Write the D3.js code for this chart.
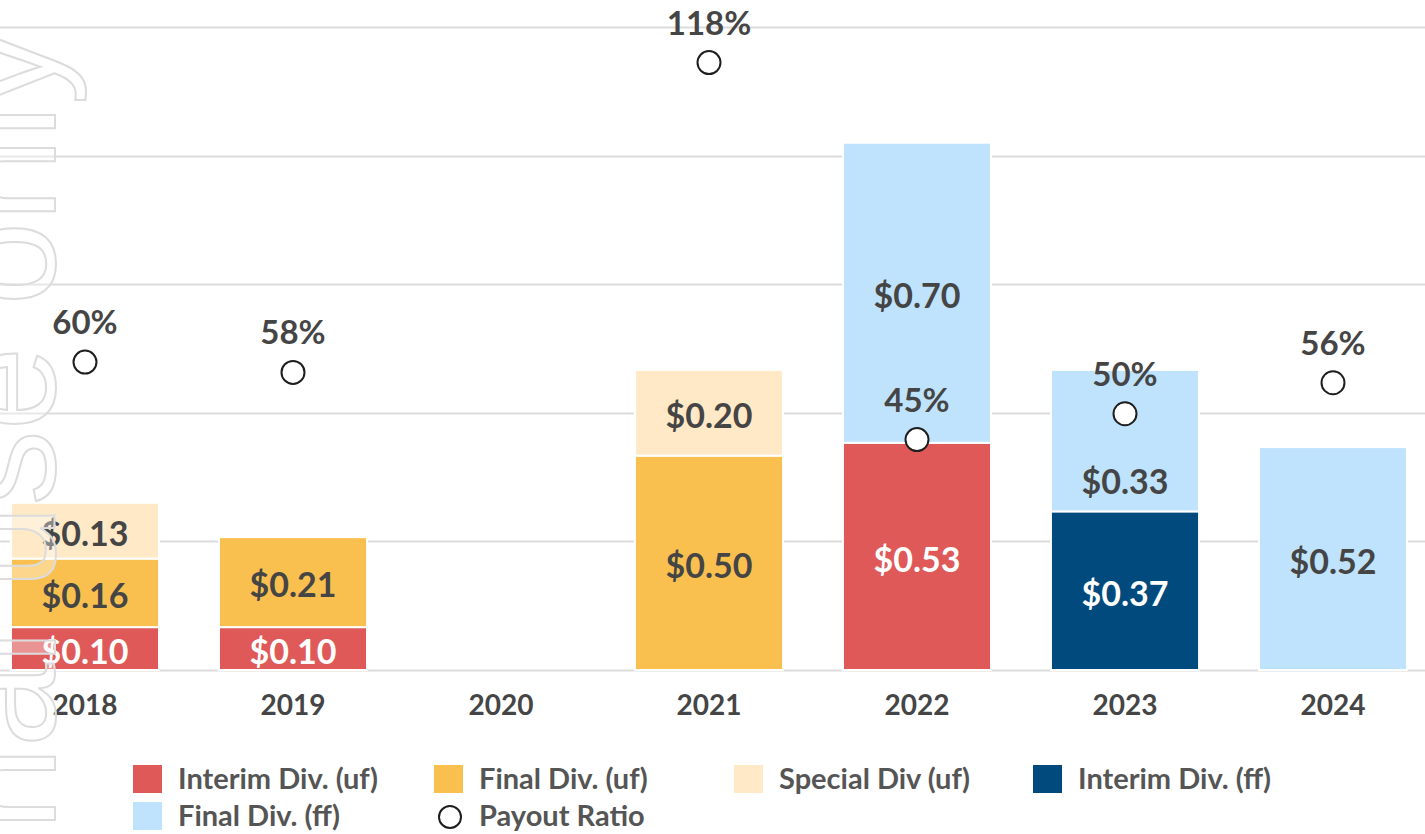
<!DOCTYPE html>
<html>
<head>
<meta charset="utf-8">
<script src="https://cdn.jsdelivr.net/npm/d3@7"></script>
<style>
  html, body { margin: 0; padding: 0; background: #fff; }
  svg { display: block; }
  text { font-family: Lato, "Open Sans", sans-serif; font-weight: 700; }
</style>
</head>
<body>
<svg id="chart" width="1425" height="834"></svg>
<script>
// Data
var years = ['2018', '2019', '2020', '2021', '2022', '2023', '2024'];
var interimUf = [0.10, 0.10, 0, 0, 0.53, 0, 0];
var finalUf   = [0.16, 0.21, 0, 0.50, 0, 0, 0];
var specialUf = [0.13, 0, 0, 0.20, 0, 0, 0];
var interimFf = [0, 0, 0, 0, 0, 0.37, 0];
var finalFf   = [0, 0, 0, 0, 0.70, 0.33, 0.52];
var payoutRatio = [0.60, 0.58, null, 1.18, 0.45, 0.50, 0.56];
var seriesNames = ['Interim Div. (uf)', 'Final Div. (uf)', 'Special Div (uf)', 'Interim Div. (ff)', 'Final Div. (ff)'];
var gridTicks = [0, 0.3, 0.6, 0.9, 1.2, 1.5];

var colors = ['#DF5959', '#F9C04F', '#FFE9C6', '#004A7E', '#BFE3FC'];
var labelColors = ['#fff', '#454545', '#454545', '#fff', '#454545'];

var width = 1425,
    baseY = 670,
    topY = 27;

var svg = d3.select('#chart');

var x = d3.scaleBand()
    .domain(years)
    .range([-19, 1437])
    .paddingInner(0.288)
    .paddingOuter(0.144);

var y = d3.scaleLinear().domain([0, 1.5]).range([baseY, topY]);
var y2 = d3.scaleLinear().domain([0, 1.245]).range([baseY, topY]);

// Gridlines
svg.append('g').selectAll('line')
    .data(gridTicks)
  .enter().append('line')
    .attr('x1', 0).attr('x2', width)
    .attr('y1', function(d){ return Math.round(y(d)) + 0.5; })
    .attr('y2', function(d){ return Math.round(y(d)) + 0.5; })
    .style('stroke', '#DCDCDC')
    .style('stroke-width', 2);

// Stacked bars
var table = years.map(function(yr, i) {
  return { year: yr, s0: interimUf[i], s1: finalUf[i], s2: specialUf[i], s3: interimFf[i], s4: finalFf[i] };
});
var stack = d3.stack().keys(['s0', 's1', 's2', 's3', 's4']);
var layers = stack(table);

var layer = svg.append('g').selectAll('g.layer')
    .data(layers)
  .enter().append('g')
    .attr('class', 'layer')
    .style('fill', function(d, i){ return colors[i]; });

layer.selectAll('rect')
    .data(function(d){ return d.filter(function(p){ return p[1] - p[0] > 0; }); })
  .enter().append('rect')
    .attr('x', function(d){ return x(d.data.year); })
    .attr('width', x.bandwidth())
    .attr('y', function(d){ return y(d[1]); })
    .attr('height', function(d){ return y(d[0]) - y(d[1]); })
    .style('stroke', '#fff')
    .style('stroke-width', 2);

// Bar labels (the 2023 top label is pushed down, clear of the ratio marker)
function labelShift(d, i) {
  return (i === 4 && d.data.year === '2023') ? 38 : 0;
}
layers.forEach(function(l, i) {
  svg.append('g').selectAll('text')
      .data(l.filter(function(p){ return p[1] - p[0] > 0; }))
    .enter().append('text')
      .attr('x', function(d){ return x(d.data.year) + x.bandwidth() / 2; })
      .attr('y', function(d){ return (y(d[0]) + y(d[1])) / 2 + labelShift(d, i); })
      .attr('dy', '0.45em')
      .attr('text-anchor', 'middle')
      .style('font-size', '34px')
      .style('fill', labelColors[i])
      .text(function(d){ return '$' + (d[1] - d[0]).toFixed(2); });
});

// Year labels
svg.append('g').selectAll('text')
    .data(years)
  .enter().append('text')
    .attr('x', function(d){ return x(d) + x.bandwidth() / 2; })
    .attr('y', 715)
    .attr('text-anchor', 'middle')
    .style('font-size', '28px')
    .style('fill', '#454545')
    .text(function(d){ return d; });

// Payout ratio markers
var ratioPts = years.map(function(yr, i){ return { year: yr, v: payoutRatio[i] }; })
    .filter(function(d){ return d.v !== null; });

svg.append('g').selectAll('circle')
    .data(ratioPts)
  .enter().append('circle')
    .attr('cx', function(d){ return x(d.year) + x.bandwidth() / 2; })
    .attr('cy', function(d){ return y2(d.v) + 2; })
    .attr('r', 11.5)
    .style('fill', '#fff')
    .style('stroke', '#1e1e1e')
    .style('stroke-width', 2);

svg.append('g').selectAll('text')
    .data(ratioPts)
  .enter().append('text')
    .attr('x', function(d){ return x(d.year) + x.bandwidth() / 2; })
    .attr('y', function(d){ return y2(d.v) - 26; })
    .attr('text-anchor', 'middle')
    .style('font-size', '33px')
    .style('fill', '#454545')
    .text(function(d){ return Math.round(d.v * 100) + '%'; });

// Watermark
svg.append('text')
    .attr('transform', 'translate(55,30) rotate(-90)')
    .attr('text-anchor', 'end')
    .style('font-family', '"Liberation Sans", sans-serif')
    .style('font-weight', 400)
    .style('font-size', '150px')
    .style('fill', 'rgba(255,255,255,0.35)')
    .style('stroke', '#DCDCDC')
    .style('stroke-width', 2)
    .text('For personal use only');

// Legend
var legendItems = [
  { name: seriesNames[0], color: colors[0], x: 133, y: 779 },
  { name: seriesNames[1], color: colors[1], x: 434, y: 779 },
  { name: seriesNames[2], color: colors[2], x: 734, y: 779 },
  { name: seriesNames[3], color: colors[3], x: 1033, y: 779 },
  { name: seriesNames[4], color: colors[4], x: 133, y: 816 },
  { name: 'Payout Ratio', color: null, x: 434, y: 816 }
];

var legend = svg.append('g').selectAll('g')
    .data(legendItems)
  .enter().append('g')
    .attr('transform', function(d){ return 'translate(' + d.x + ',' + d.y + ')'; });

legend.filter(function(d){ return d.color; }).append('rect')
    .attr('x', 0).attr('y', -14)
    .attr('width', 29).attr('height', 28)
    .style('fill', function(d){ return d.color; });

legend.filter(function(d){ return !d.color; }).append('circle')
    .attr('cx', 16).attr('cy', 1)
    .attr('r', 11)
    .style('fill', '#fff')
    .style('stroke', '#1e1e1e')
    .style('stroke-width', 2);

legend.append('text')
    .attr('x', 45)
    .attr('y', 0)
    .attr('dy', '0.34em')
    .style('font-size', '29px')
    .style('fill', '#555')
    .text(function(d){ return d.name; });
</script>
</body>
</html>
